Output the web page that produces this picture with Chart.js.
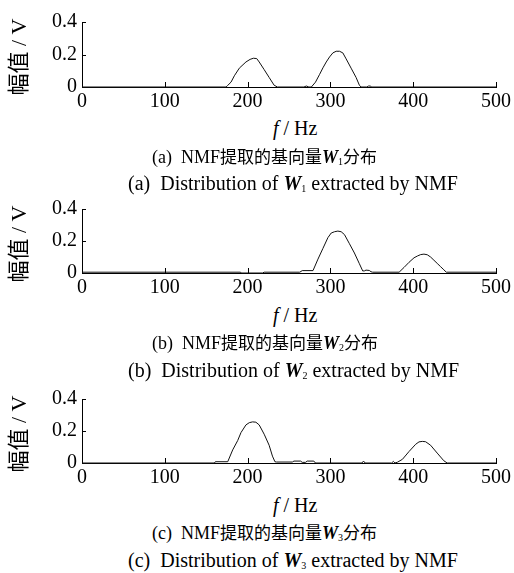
<!DOCTYPE html>
<html>
<head>
<meta charset="utf-8">
<script src="https://cdn.jsdelivr.net/npm/chart.js@4"></script>
<style>
  body { margin: 0; background: #fff; width: 514px; height: 573px; position: relative; overflow: hidden; }
  .panel { position: absolute; left: 0; width: 514px; }
  .txt { position: absolute; font-family: "Times New Roman", "Liberation Serif", "Noto Sans CJK SC", serif; font-size: 20px; color: #000; white-space: nowrap; line-height: 20px; }
  .txt.cn { font-size: 18px; }
  .txt .zh { font-size: 17px; }
  .txt sub { font-size: 10px; vertical-align: -2px; }
  .ylab { position: absolute; font-family: "Times New Roman", "Liberation Serif", "Noto Sans CJK SC", serif; font-size: 22px; white-space: nowrap;
          transform: translate(-50%, -50%) rotate(-90deg); line-height: 24px; }
</style>
</head>
<body>
<div class="panel" id="p1" style="top:5px;height:112px"><canvas id="c1"></canvas></div>
<div class="panel" id="p2" style="top:192px;height:111px"><canvas id="c2"></canvas></div>
<div class="panel" id="p3" style="top:382px;height:111px"><canvas id="c3"></canvas></div>

<div class="ylab" style="left:19px;top:57px">幅值 / V</div>
<div class="ylab" style="left:19px;top:244px">幅值 / V</div>
<div class="ylab" style="left:19px;top:434px">幅值 / V</div>

<div class="txt" style="left:273px;top:118px"><i>f</i> / Hz</div>
<div class="txt cn" style="left:152px;top:147px">(a)&nbsp; NMF<span class="zh">提取的基向量</span><b><i>W</i></b><sub>1</sub><span class="zh">分布</span></div>
<div class="txt" style="left:128px;top:173px">(a)&nbsp; Distribution of <b><i>W</i></b><sub>1</sub> extracted by NMF</div>

<div class="txt" style="left:273px;top:305px"><i>f</i> / Hz</div>
<div class="txt cn" style="left:152px;top:333px">(b)&nbsp; NMF<span class="zh">提取的基向量</span><b><i>W</i></b><sub>2</sub><span class="zh">分布</span></div>
<div class="txt" style="left:128px;top:360px">(b)&nbsp; Distribution of <b><i>W</i></b><sub>2</sub> extracted by NMF</div>

<div class="txt" style="left:273px;top:495px"><i>f</i> / Hz</div>
<div class="txt cn" style="left:152px;top:523px">(c)&nbsp; NMF<span class="zh">提取的基向量</span><b><i>W</i></b><sub>3</sub><span class="zh">分布</span></div>
<div class="txt" style="left:128px;top:550px">(c)&nbsp; Distribution of <b><i>W</i></b><sub>3</sub> extracted by NMF</div>

<script>
// frequency (Hz) and amplitude (V)
const xTicks = [0, 100, 200, 300, 400, 500];
const yTicks = [0, 0.2, 0.4];

const freqW1 = [0, 174, 176, 180, 184, 190, 198, 203, 207, 211, 214, 220, 226, 232, 236,
  268, 271, 274, 277, 282, 287, 291, 295, 299, 303, 307, 311, 315, 319, 325, 331, 335, 337,
  344, 346, 348, 350, 500];
const ampW1 = [0, 0, 0.01, 0.03, 0.069, 0.116, 0.154, 0.17, 0.177, 0.175, 0.154, 0.107, 0.059, 0.011, 0,
  0, 0.006, 0, 0, 0.03, 0.078, 0.118, 0.154, 0.185, 0.21, 0.22, 0.22, 0.21, 0.173, 0.116, 0.059, 0.011, 0,
  0, 0.006, 0.006, 0, 0];

const freqW2 = [0, 191, 193, 218, 220, 263, 266, 279, 285, 291, 297, 301, 305, 309, 313, 317, 323,
  329, 335, 339, 341, 343, 347, 349, 351, 383, 389, 395, 401, 405, 409, 413, 417, 421, 425, 429,
  433, 437, 440, 442, 500];
const ampW2 = [0.005, 0.005, 0, 0, 0.005, 0.005, 0.015, 0.015, 0.087, 0.154, 0.221, 0.25, 0.258, 0.262,
  0.258, 0.24, 0.183, 0.125, 0.058, 0.013, 0.013, 0.018, 0.016, 0.008, 0.005, 0.005, 0.035, 0.067,
  0.095, 0.106, 0.115, 0.118, 0.114, 0.1, 0.08, 0.06, 0.04, 0.02, 0.005, 0.005, 0.005];

const freqW3 = [0, 160, 161, 176, 182, 188, 192, 198, 202, 206, 210, 214, 220, 226, 230, 233, 235,
  254, 256, 264, 266, 270, 272, 280, 282, 338, 340, 342, 374, 376, 378, 381, 387, 395, 403, 407,
  411, 415, 421, 429, 437, 441, 500];
const ampW3 = [0, 0, 0.008, 0.008, 0.082, 0.14, 0.19, 0.238, 0.252, 0.257, 0.255, 0.238, 0.18, 0.111,
  0.043, 0.008, 0.006, 0.006, 0.012, 0.012, 0.004, 0.004, 0.012, 0.012, 0, 0, 0.012, 0, 0, 0.01, 0,
  0.005, 0.023, 0.072, 0.117, 0.132, 0.135, 0.133, 0.111, 0.062, 0.014, 0, 0];

// ticks that point into the plot, like the original figure
const inwardTicks = {
  id: 'inwardTicks',
  afterDraw(chart) {
    const { ctx, scales: { x, y } } = chart;
    ctx.save();
    ctx.strokeStyle = '#000';
    ctx.lineWidth = 1;
    ctx.beginPath();
    x.ticks.forEach((t, i) => {
      if (i === 0) return;
      const px = Math.round(x.getPixelForTick(i)) + 0.5;
      ctx.moveTo(px, y.bottom);
      ctx.lineTo(px, y.bottom - 5);
    });
    y.ticks.forEach((t, i) => {
      if (i === 0) return;
      const py = Math.round(y.getPixelForTick(i)) + 0.5;
      ctx.moveTo(x.left, py);
      ctx.lineTo(x.left + 4, py);
    });
    ctx.stroke();
    ctx.restore();
  }
};

Chart.defaults.font.family = '"Times New Roman", "Liberation Serif", serif';
const tickFont = { family: '"Times New Roman", "Liberation Serif", serif', size: 20 };

const makeChart = (id, freq, amp) => {
  new Chart(document.getElementById(id), {
    type: 'line',
    data: {
      datasets: [{
        data: freq.map((f, i) => ({ x: f, y: amp[i] })),
        borderColor: '#111',
        borderWidth: 1,
        pointRadius: 0,
        tension: 0,
        clip: 4
      }]
    },
    options: {
      responsive: true,
      maintainAspectRatio: false,
      animation: false,
      layout: { padding: { top: 12, right: 17, left: 0, bottom: 0 } },
      plugins: { legend: { display: false }, tooltip: { enabled: false } },
      scales: {
        x: {
          type: 'linear', min: 0, max: 500,
          afterBuildTicks: s => { s.ticks = xTicks.map(v => ({ value: v })); },
          afterFit: s => { s.height = 30; },
          grid: { display: false, drawTicks: false },
          border: { display: true, color: '#000', width: 1 },
          ticks: { color: '#000', font: tickFont, padding: 3, maxRotation: 0 }
        },
        y: {
          min: 0, max: 0.4,
          afterBuildTicks: s => { s.ticks = yTicks.map(v => ({ value: v })); },
          afterFit: s => { s.width = 82; },
          grid: { display: false, drawTicks: false },
          border: { display: true, color: '#000', width: 1 },
          ticks: { color: '#000', font: tickFont, padding: 5, callback: v => String(v) }
        }
      }
    },
    plugins: [inwardTicks]
  });
};

makeChart('c1', freqW1, ampW1);
makeChart('c2', freqW2, ampW2);
makeChart('c3', freqW3, ampW3);
</script>
</body>
</html>
